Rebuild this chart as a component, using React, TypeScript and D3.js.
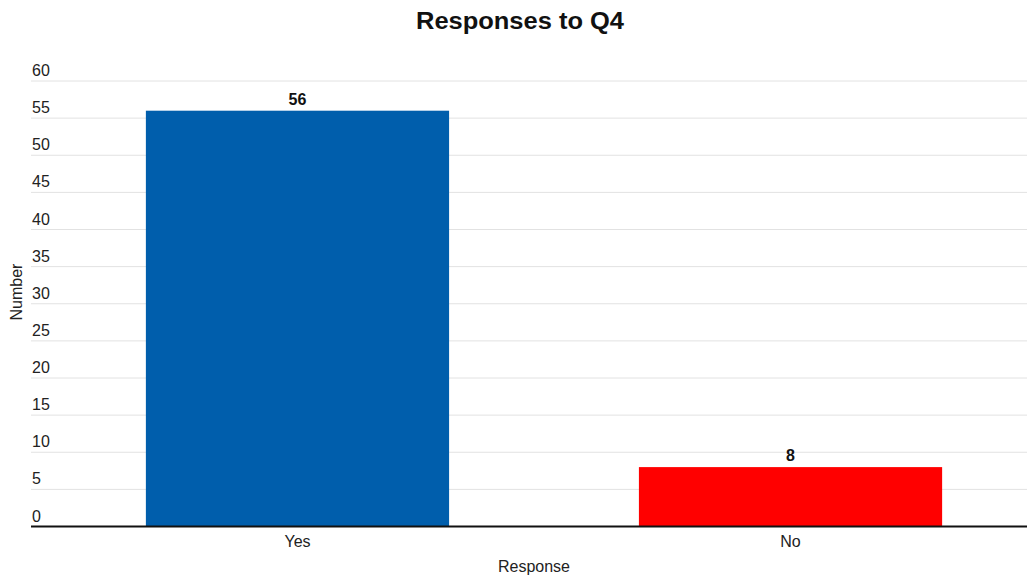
import React from "react";
import * as d3 from "d3";

const categories = ["Yes", "No"];
const values = [56, 8];
const colors = ["#005eac", "#ff0000"];
const yTicks = [0, 5, 10, 15, 20, 25, 30, 35, 40, 45, 50, 55, 60];
const title = "Responses to Q4";
const xTitle = "Response";
const yTitle = "Number";

const W = 1027;
const H = 575;
const left = 31;
const right = 1027;
const y0 = 526.5;
const y1 = 81;

export default function App() {
  const y = d3.scaleLinear().domain([0, 60]).range([y0, y1]);
  const x = d3
    .scaleBand<string>()
    .domain(categories)
    .range([left, 1057])
    .paddingInner(0.385)
    .paddingOuter(0.233);
  const font = "'Liberation Sans', Arial, sans-serif";
  return (
    <svg
      width={W}
      height={H}
      style={{ position: "absolute", left: 0, top: 0, background: "#fff" }}
      fontFamily={font}
    >
      <text
        x={520}
        y={29}
        textAnchor="middle"
        fontSize={23}
        fontWeight="bold"
        fill="#111"
        textLength={208}
        lengthAdjust="spacingAndGlyphs"
      >
        {title}
      </text>
      {yTicks.map((t) => (
        <g key={t}>
          {t > 0 && (
            <line x1={left} x2={right} y1={y(t)} y2={y(t)} stroke="#e2e2e2" strokeWidth={1} />
          )}
          <text x={32} y={y(t) - 5} fontSize={16} fill="#222">
            {t}
          </text>
        </g>
      ))}
      {categories.map((c, i) => (
        <g key={c}>
          <rect
            x={x(c)}
            y={y(values[i])}
            width={x.bandwidth()}
            height={y(0) - y(values[i])}
            fill={colors[i]}
          />
          <text
            x={(x(c) as number) + x.bandwidth() / 2}
            y={y(values[i]) - 6}
            textAnchor="middle"
            fontSize={16}
            fontWeight="bold"
            fill="#111"
          >
            {values[i]}
          </text>
          <text
            x={(x(c) as number) + x.bandwidth() / 2}
            y={547}
            textAnchor="middle"
            fontSize={16}
            fill="#222"
          >
            {c}
          </text>
        </g>
      ))}
      <line x1={left} x2={right} y1={y(0)} y2={y(0)} stroke="#111" strokeWidth={2} />
      <text x={534} y={572} textAnchor="middle" fontSize={16} fill="#222">
        {xTitle}
      </text>
      <text
        transform={`translate(22,292) rotate(-90)`}
        textAnchor="middle"
        fontSize={16}
        fill="#222"
      >
        {yTitle}
      </text>
    </svg>
  );
}
